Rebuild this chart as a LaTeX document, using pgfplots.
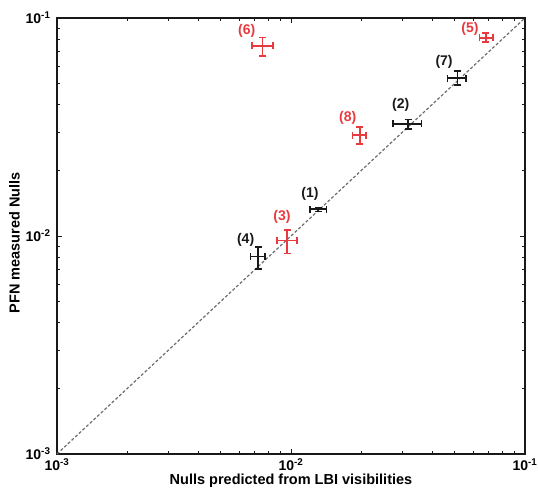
\documentclass[border=0pt]{standalone}
\usepackage{pgfplots}
\pgfplotsset{compat=1.18}
\usepackage{pgfplotstable}
\usepackage{fontspec}
\setmainfont{Liberation Sans}

\definecolor{nullred}{RGB}{232,58,62}
\definecolor{nullblk}{RGB}{25,25,25}

% x, y, and error bar extents (plus / minus)
\pgfplotstableread{
x       xp       xm       y       yp       ym
0.01308 0.00113  0.00103  0.01326 0.00028  0.00028
0.0317  0.00448  0.00434  0.03265 0.00165  0.00178
0.00725 0.00049  0.00053  0.00804 0.00089  0.00098
0.0514  0.0046   0.0047   0.0529  0.0042   0.0036
}\blackpts

\pgfplotstableread{
x       xp       xm       y       yp       ym
0.00964 0.0010   0.00095  0.00952 0.00113  0.00119
0.0681  0.0051   0.0043   0.0812  0.0039   0.0038
0.00757 0.00083  0.00074  0.0746  0.0069   0.0077
0.01972 0.0012   0.00137  0.02906 0.00266  0.00263
}\redpts

\begin{document}
\begin{tikzpicture}
\begin{axis}[
  name=ax,
  scale only axis,
  width=468pt, height=436pt,
  xmode=log, ymode=log,
  xmin=1e-3, xmax=1e-1, ymin=1e-3, ymax=1e-1,
  xtick={0.001,0.01,0.1}, ytick={0.001,0.01,0.1},
  xticklabels={10\textsuperscript{-3},10\textsuperscript{-2},10\textsuperscript{-1}},
  yticklabels={10\textsuperscript{-3},10\textsuperscript{-2},10\textsuperscript{-1}},
  ticklabel style={font=\fontsize{14}{16}\selectfont\bfseries},
  xticklabel style={yshift=-1pt},
  yticklabel style={xshift=-3pt},
  axis line style={line width=1.2pt, nullblk},
  tick style={line width=0.7pt, nullblk},
  major tick length=5pt, minor tick length=3pt,
  tick align=inside,
  xlabel={Nulls predicted from LBI visibilities},
  ylabel={PFN measured Nulls},
  label style={font=\fontsize{14.5}{16}\selectfont\bfseries},
  xlabel style={yshift=4pt},
  ylabel style={yshift=-1pt, xshift=-7pt},
  clip=false,
]
\addplot[densely dashed, line width=1.2pt, gray!85!black] coordinates {(0.001,0.001) (0.1,0.1)};

\addplot[draw=none, mark=none,
  error bars/.cd, x dir=both, y dir=both, x explicit, y explicit,
  error bar style={draw=nullblk, line width=1.6pt},
  error mark options={rotate=90, draw=nullblk, mark size=3.5pt, line width=1.6pt}]
  table[x=x, y=y, x error plus=xp, x error minus=xm, y error plus=yp, y error minus=ym] {\blackpts};

\addplot[draw=none, mark=none,
  error bars/.cd, x dir=both, y dir=both, x explicit, y explicit,
  error bar style={draw=nullred, line width=1.6pt},
  error mark options={rotate=90, draw=nullred, mark size=3.5pt, line width=1.6pt}]
  table[x=x, y=y, x error plus=xp, x error minus=xm, y error plus=yp, y error minus=ym] {\redpts};

\begin{scope}[every node/.style={font=\fontsize{14}{16}\selectfont\bfseries}]
\node[text=nullblk] at (axis cs:0.01205,0.01558) {(1)};
\node[text=nullblk] at (axis cs:0.02943,0.0399) {(2)};
\node[text=nullred] at (axis cs:0.00915,0.01226) {(3)};
\node[text=nullblk] at (axis cs:0.0064,0.00959) {(4)};
\node[text=nullred] at (axis cs:0.0582,0.0890) {(5)};
\node[text=nullred] at (axis cs:0.00647,0.0874) {(6)};
\node[text=nullblk] at (axis cs:0.0451,0.0629) {(7)};
\node[text=nullred] at (axis cs:0.01747,0.0349) {(8)};
\end{scope}
\end{axis}
\pgfresetboundingbox
\path ([xshift=-57pt,yshift=-40pt]ax.south west) rectangle ([xshift=13pt,yshift=18pt]ax.north east);
\end{tikzpicture}
\end{document}
